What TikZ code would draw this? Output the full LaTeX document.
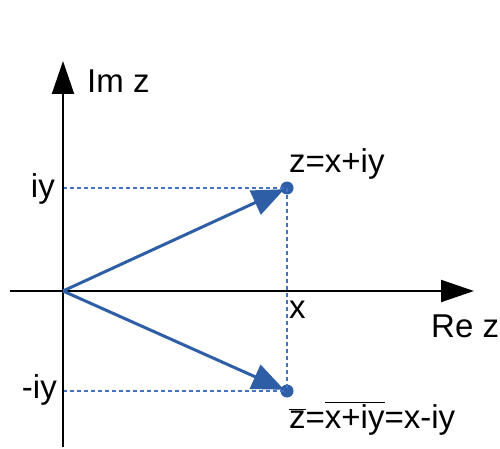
\documentclass[tikz,border=0pt]{standalone}
\usepackage{fontspec}
\setmainfont{Liberation Sans}
\usetikzlibrary{arrows.meta}
\definecolor{vecblue}{RGB}{46,94,166}
\definecolor{dotblue}{RGB}{68,114,196}
\begin{document}
\begin{tikzpicture}[x=1pt,y=-1pt,
  axis/.style={line width=2pt,-{Triangle[length=33pt,width=22pt]}},
  vec/.style={line width=3pt,vecblue,-{Triangle[length=32pt,width=26pt]},shorten >=3pt},
  guide/.style={line width=1.6pt,dotblue,dash pattern=on 4pt off 3pt},
  pt/.style={circle,fill=vecblue,inner sep=0pt,minimum size=13pt},
  lbl/.style={font=\fontsize{33}{36}\selectfont,inner sep=0pt}]
\useasboundingbox (0,0) rectangle (500,449);
\coordinate (O) at (63,291);
\coordinate (ybot) at (63,447);
\coordinate (ytop) at (63,61);
\coordinate (xl) at (10,291);
\coordinate (xr) at (474,291);
\coordinate (yiy) at (63,188);
\coordinate (ymiy) at (63,391);
\node[pt] (z) at (287,188) {};
\node[pt] (zb) at (287,391) {};
\draw[guide] (yiy) -- (z.center);
\draw[guide] (ymiy) -- (zb.center);
\draw[guide] (z.center) -- (zb.center);
\draw[axis] (ybot) -- (ytop);
\draw[axis] (xl) -- (xr);
\draw[vec] (O) -- (z.center);
\draw[vec] (O) -- (zb.center);
\node[lbl,anchor=base west] (imz) at (87,93) {Im z};
\node[lbl,anchor=base east] (iy) at (55,197) {iy};
\node[lbl,anchor=base east] (miy) at (57,398) {-iy};
\node[lbl,anchor=base west] (zl) at (289,172) {z=x+iy};
\node[lbl,anchor=base west] (xlab) at (289,318) {x};
\node[lbl,anchor=base west] (rez) at (431,337) {Re z};
\node[lbl,anchor=base west] (zbl) at (289,428) {$\overline{\mbox{z}}$=$\overline{\mbox{x+iy}}$=x-iy};
\end{tikzpicture}
\end{document}
